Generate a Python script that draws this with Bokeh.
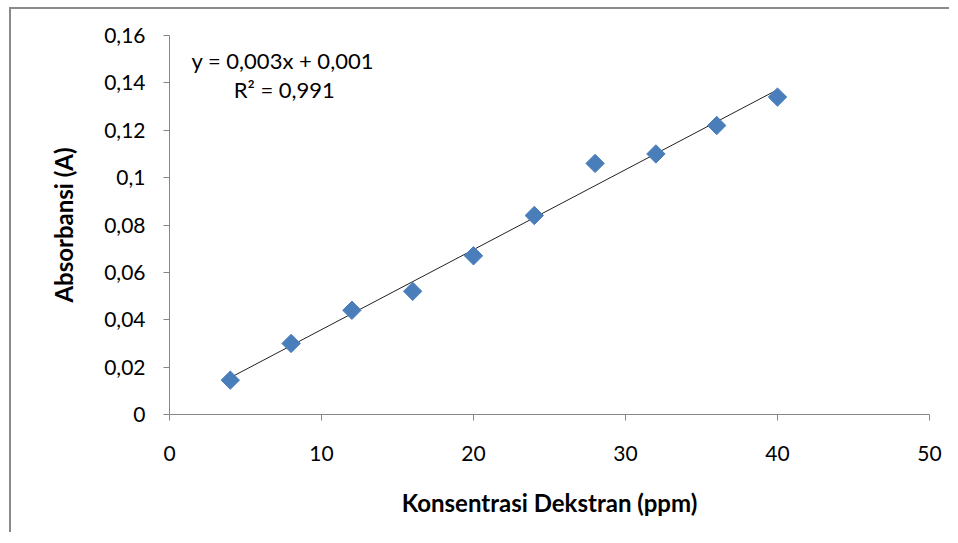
import numpy as np
from bokeh.plotting import figure
from bokeh.models import Label, FixedTicker, ColumnDataSource
from bokeh.embed import file_html
from bokeh.resources import INLINE

# data
konsentrasi = [4, 8, 12, 16, 20, 24, 28, 32, 36, 40]
absorbansi = [0.0145, 0.030, 0.044, 0.052, 0.067, 0.084, 0.106, 0.110, 0.122, 0.134]
x_ticks = [0, 10, 20, 30, 40, 50]
y_ticks = [0, 0.02, 0.04, 0.06, 0.08, 0.10, 0.12, 0.14, 0.16]
y_tick_labels = ["0", "0,02", "0,04", "0,06", "0,08", "0,1", "0,12", "0,14", "0,16"]
equation_text = "y = 0,003x + 0,001"
r2_text = "R² = 0,991"
x_title = "Konsentrasi Dekstran (ppm)"
y_title = "Absorbansi (A)"

FONT = "Lato"
AXIS_COLOR = "#868686"

p = figure(width=940, height=525, output_backend="svg", toolbar_location=None,
           x_range=(0, 50), y_range=(0, 0.16),
           min_border_left=158, min_border_right=22, min_border_top=26, min_border_bottom=120)
p.styles = {"border-left": "2px solid #8a8a8a", "border-top": "2px solid #8a8a8a",
            "margin-left": "9px", "margin-top": "7px"}
p.outline_line_color = None
p.grid.visible = False

# trend line from linear fit
slope, intercept = np.polyfit(konsentrasi, absorbansi, 1)
tx = [min(konsentrasi), max(konsentrasi)]
ty = [slope * v + intercept for v in tx]
p.line(tx, ty, line_color="#222222", line_width=1)

src = ColumnDataSource(dict(x=konsentrasi, y=absorbansi))
p.scatter("x", "y", source=src, marker="square", angle=np.pi / 4, size=13,
          fill_color="#4a7ebb", line_color="#4a7ebb")

for ax in (p.xaxis[0], p.yaxis[0]):
    ax.axis_line_color = AXIS_COLOR
    ax.major_tick_line_color = AXIS_COLOR
    ax.minor_tick_line_color = None
    ax.major_tick_in = 0
    ax.major_tick_out = 6
    ax.major_label_text_font = FONT
    ax.major_label_text_font_size = "21px"
    ax.major_label_text_color = "#000000"
    ax.axis_label_text_font = FONT
    ax.axis_label_text_font_size = "24px"
    ax.axis_label_text_font_style = "bold"
    ax.axis_label_text_color = "#000000"

p.xaxis.ticker = FixedTicker(ticks=x_ticks)
p.yaxis.ticker = FixedTicker(ticks=y_ticks)
p.yaxis.major_label_overrides = {t: l for t, l in zip(y_ticks, y_tick_labels)}
p.xaxis.major_label_standoff = 25
p.yaxis.major_label_standoff = 18
p.xaxis.axis_label = x_title
p.yaxis.axis_label = y_title
p.xaxis.axis_label_standoff = 24
p.yaxis.axis_label_standoff = 23

p.add_layout(Label(x=7.45, y=0.1494, text=equation_text, text_align="center",
                   text_baseline="middle", text_font=FONT, text_font_size="22px",
                   text_color="#000000"))
p.add_layout(Label(x=7.55, y=0.1372, text=r2_text, text_align="center",
                   text_baseline="middle", text_font=FONT, text_font_size="22px",
                   text_color="#000000"))

open("out.html", "w").write(file_html(p, INLINE))
